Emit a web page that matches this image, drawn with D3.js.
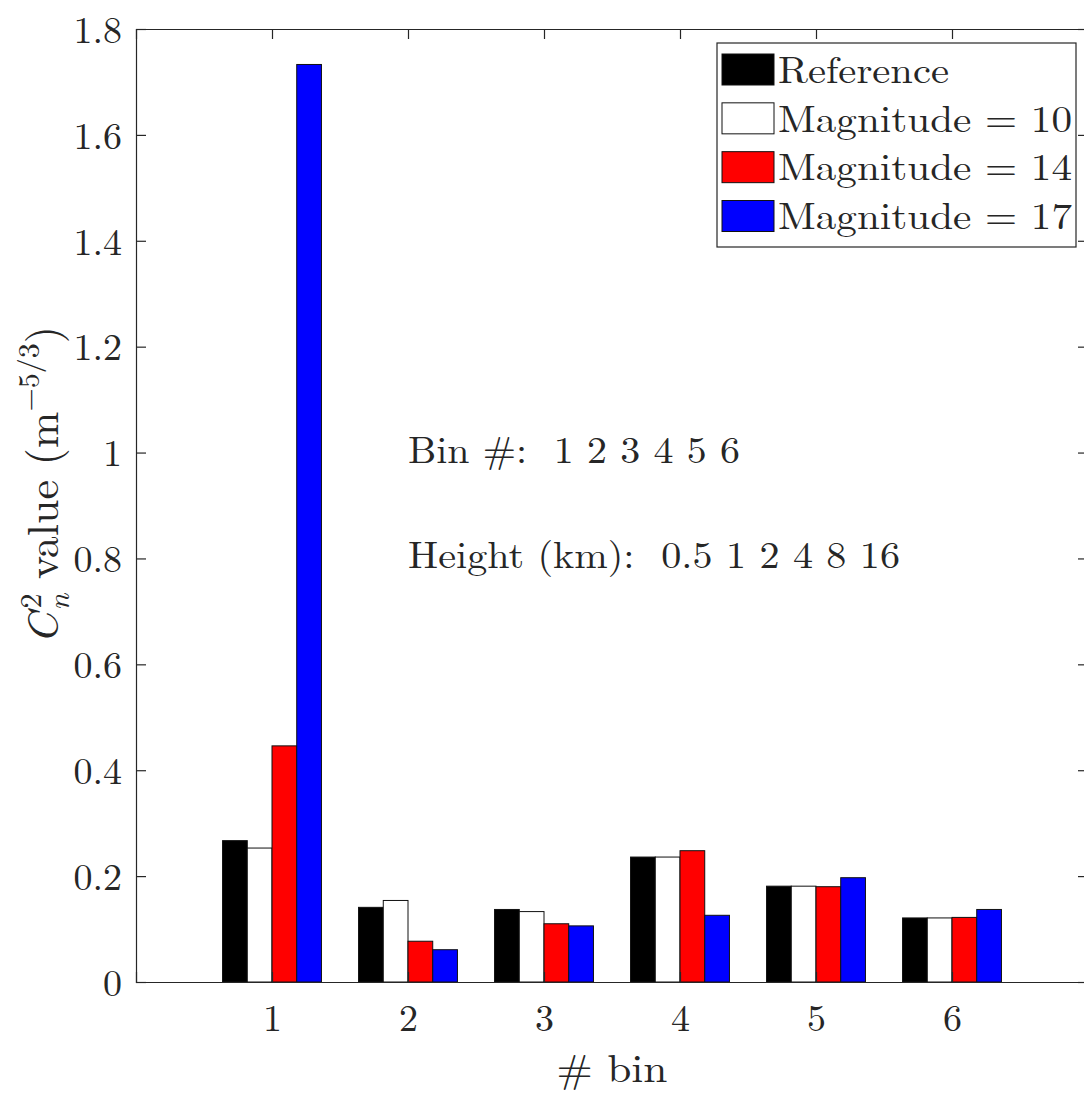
<!DOCTYPE html>
<html>
<head>
<meta charset="utf-8">
<script src="https://cdn.jsdelivr.net/npm/d3@7"></script>
<style>
  html, body { margin: 0; padding: 0; background: #fff; }
  svg text {
    font-family: "Latin Modern Roman", "CMU Serif", "Liberation Serif", "Tinos", "Times New Roman",
      "Nimbus Roman", "FreeSerif", "DejaVu Serif", "Noto Serif", serif;
    fill: #262626;
  }
</style>
</head>
<body>
<svg id="chart" width="1084" height="1094"></svg>
<script>
// values
const bins = [1, 2, 3, 4, 5, 6];
const seriesNames = ["Reference", "Magnitude = 10", "Magnitude = 14", "Magnitude = 17"];
const reference = [0.267, 0.141, 0.137, 0.236, 0.181, 0.121];
const mag10 = [0.253, 0.154, 0.133, 0.236, 0.181, 0.121];
const mag14 = [0.446, 0.077, 0.110, 0.248, 0.180, 0.122];
const mag17 = [1.733, 0.061, 0.106, 0.126, 0.197, 0.137];
const seriesColors = ["#000000", "#ffffff", "#ff0000", "#0000ff"];
const yTicks = [0, 0.2, 0.4, 0.6, 0.8, 1, 1.2, 1.4, 1.6, 1.8];
const binLine = "Bin #:  1 2 3 4 5 6";
const heightLine = "Height (km):  0.5 1 2 4 8 16";

const seriesValues = [reference, mag10, mag14, mag17];

const margin = { left: 136, top: 29, right: 1088, bottom: 982 };
const svg = d3.select("#chart");

const x = d3.scaleLinear().domain([0, 7]).range([margin.left, margin.right]);
const y = d3.scaleLinear().domain([0, 1.8]).range([margin.bottom, margin.top]);

// MATLAB style grouped bars: group width ~0.727 of a bin
const groupWidth = 4 / 5.5;
const inner = d3.scaleBand().domain(d3.range(seriesNames.length))
  .range([-groupWidth / 2, groupWidth / 2]);

const axisColor = "#262626";
const fontSize = 38;

// fit a text to the width it has in the reference
function fit(sel, w) {
  sel.attr("textLength", w).attr("lengthAdjust", "spacingAndGlyphs");
}

// bars
const rows = [];
seriesValues.forEach((vals, s) => {
  vals.forEach((v, i) => rows.push({ s: s, bin: bins[i], v: v }));
});

svg.append("g").selectAll("rect")
  .data(rows)
  .enter()
  .append("rect")
  .attr("x", d => x(d.bin + inner(d.s)))
  .attr("y", d => y(d.v))
  .attr("width", d => x(inner.bandwidth()) - x(0))
  .attr("height", d => y(0) - y(d.v))
  .attr("fill", d => seriesColors[d.s])
  .attr("stroke", "#111")
  .attr("stroke-width", 1);

// axes (box with ticks on all four sides, ticks inward)
const tickLen = 10;
const leftAxis = svg.append("g")
  .attr("transform", `translate(${margin.left},0)`)
  .call(d3.axisLeft(y).tickValues(yTicks).tickSize(-tickLen).tickPadding(14)
    .tickFormat(d => d === 0 ? "0" : d3.format("")(+d.toFixed(1))));
const rightAxis = svg.append("g")
  .attr("transform", `translate(${margin.right},0)`)
  .call(d3.axisRight(y).tickValues(yTicks).tickSize(-tickLen).tickFormat(""));
const bottomAxis = svg.append("g")
  .attr("transform", `translate(0,${margin.bottom})`)
  .call(d3.axisBottom(x).tickValues(bins).tickSize(-tickLen).tickPadding(22).tickFormat(d3.format("d")));
const topAxis = svg.append("g")
  .attr("transform", `translate(0,${margin.top})`)
  .call(d3.axisTop(x).tickValues(bins).tickSize(-tickLen).tickFormat(""));

[leftAxis, rightAxis, bottomAxis, topAxis].forEach(g => {
  g.attr("font-family", null);
  g.select(".domain").attr("stroke", axisColor).attr("stroke-width", 1.2);
  g.selectAll(".tick line").attr("stroke", axisColor).attr("stroke-width", 1.2);
  g.selectAll("text")
    .style("font-size", fontSize + "px")
    .attr("fill", axisColor);
});
leftAxis.selectAll("text").attr("dy", "0.35em");
bottomAxis.selectAll("text").attr("dy", "0.71em");

// axis labels
svg.append("text")
  .attr("x", x(3.5))
  .attr("y", 1082)
  .attr("text-anchor", "middle")
  .style("font-size", "40px")
  .text("# bin")
  .call(fit, 111);

const ylab = svg.append("text")
  .attr("transform", `translate(58,485) rotate(-90)`)
  .attr("text-anchor", "middle")
  .style("font-size", "44px");
ylab.append("tspan").attr("font-style", "italic").text("C");
ylab.append("tspan").attr("font-size", "30px").attr("dx", "4").attr("dy", "-17").text("2");
ylab.append("tspan").attr("font-size", "30px").attr("font-style", "italic").attr("dx", "-17").attr("dy", "28").text("n");
ylab.append("tspan").attr("dy", "-11").text(" value (m");
ylab.append("tspan").attr("font-size", "30px").attr("dy", "-19").text("\u22125/3");
ylab.append("tspan").attr("dy", "19").text(")");

// annotation text
svg.append("text")
  .attr("x", 408).attr("y", 463)
  .style("font-size", fontSize + "px")
  .style("white-space", "pre")
  .text(binLine)
  .call(fit, 332);
svg.append("text")
  .attr("x", 408).attr("y", 568)
  .style("font-size", fontSize + "px")
  .style("white-space", "pre")
  .text(heightLine)
  .call(fit, 492);

// legend
const legend = svg.append("g");
legend.append("rect")
  .attr("x", 717).attr("y", 43)
  .attr("width", 359).attr("height", 204)
  .attr("fill", "#fff")
  .attr("stroke", axisColor)
  .attr("stroke-width", 1.2);

const legendRow = d3.scalePoint().domain(d3.range(seriesNames.length)).range([69.5, 216]);
const legendTextWidth = [171, 294, 294, 294];
const item = legend.selectAll("g.item")
  .data(seriesNames)
  .enter()
  .append("g")
  .attr("class", "item")
  .attr("transform", (d, i) => `translate(0,${legendRow(i)})`);
item.append("rect")
  .attr("x", 722).attr("y", -15.5)
  .attr("width", 52).attr("height", 31)
  .attr("fill", (d, i) => seriesColors[i])
  .attr("stroke", "#111")
  .attr("stroke-width", 1);
item.append("text")
  .attr("x", 778)
  .attr("dy", "0.35em")
  .style("font-size", fontSize + "px")
  .text(d => d)
  .each(function (d, i) { d3.select(this).call(fit, legendTextWidth[i]); });
</script>
</body>
</html>
